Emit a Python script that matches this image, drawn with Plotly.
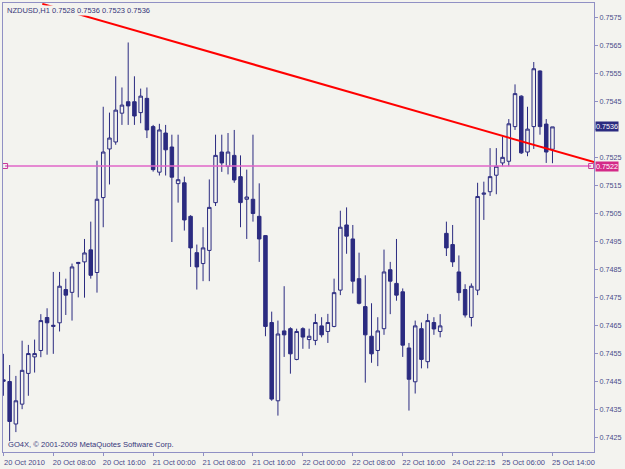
import plotly.graph_objects as go

# ---------------- data (NZDUSD, H1) ----------------
bar_index = list(range(89))

opens = [0.74455, 0.74449, 0.74297, 0.74368, 0.74478, 0.74537, 0.74560, 0.74678, 0.74646, 0.74659,
         0.74778, 0.74768, 0.74871, 0.74877, 0.74920, 0.74839, 0.75107, 0.75281, 0.75306, 0.75409,
         0.75450, 0.75450, 0.75411, 0.75462, 0.75361, 0.75198, 0.75338, 0.75288, 0.75157, 0.75160,
         0.75040, 0.74910, 0.74871, 0.74918, 0.75089, 0.75270, 0.75219, 0.75258, 0.75182, 0.75101,
         0.75101, 0.75040, 0.74971, 0.74660, 0.74380, 0.74630, 0.74638, 0.74528, 0.74638, 0.74599,
         0.74596, 0.74648, 0.74628, 0.74646, 0.74776, 0.75009, 0.74959, 0.74817, 0.74717, 0.74611,
         0.74560, 0.74638, 0.74849, 0.74800, 0.74770, 0.74569, 0.74448, 0.74638, 0.74520, 0.74660,
         0.74628, 0.74979, 0.74939, 0.74841, 0.74778, 0.74678, 0.74776, 0.75119, 0.75128, 0.75187,
         0.75231, 0.75237, 0.75361, 0.75470, 0.75270, 0.75361, 0.75560, 0.75370, 0.75280]

highs = [0.74548, 0.74508, 0.74469, 0.74595, 0.74580, 0.74599, 0.74690, 0.74711, 0.74841, 0.74841,
         0.74817, 0.74871, 0.74877, 0.74959, 0.75021, 0.75239, 0.75432, 0.75411, 0.75541, 0.75501,
         0.75662, 0.75541, 0.75497, 0.75501, 0.75367, 0.75371, 0.75367, 0.75332, 0.75332, 0.75182,
         0.75044, 0.74939, 0.75001, 0.75172, 0.75332, 0.75332, 0.75338, 0.75349, 0.75258, 0.75207,
         0.75332, 0.75158, 0.74973, 0.74699, 0.74667, 0.74790, 0.74643, 0.74638, 0.74643, 0.74638,
         0.74691, 0.74679, 0.74691, 0.74817, 0.75060, 0.75072, 0.75009, 0.74910, 0.74829, 0.74729,
         0.74679, 0.74921, 0.74877, 0.74959, 0.74782, 0.74587, 0.74667, 0.74660, 0.74691, 0.74679,
         0.74690, 0.75021, 0.75009, 0.74900, 0.74797, 0.74800, 0.75160, 0.75164, 0.75284, 0.75284,
         0.75326, 0.75388, 0.75512, 0.75473, 0.75432, 0.75592, 0.75562, 0.75388, 0.75360]

lows = [0.74398, 0.74236, 0.74268, 0.74350, 0.74398, 0.74481, 0.74536, 0.74545, 0.74548, 0.74628,
        0.74687, 0.74667, 0.74750, 0.74749, 0.74817, 0.74767, 0.75001, 0.75154, 0.75296, 0.75367,
        0.75367, 0.75367, 0.75373, 0.75320, 0.75200, 0.75186, 0.75186, 0.74948, 0.75089, 0.74989,
        0.74859, 0.74778, 0.74808, 0.74808, 0.75077, 0.75199, 0.75190, 0.75160, 0.75001, 0.74959,
        0.75021, 0.74877, 0.74611, 0.74380, 0.74327, 0.74537, 0.74477, 0.74525, 0.74566, 0.74566,
        0.74579, 0.74607, 0.74587, 0.74643, 0.74758, 0.74906, 0.74764, 0.74725, 0.74445, 0.74516,
        0.74504, 0.74616, 0.74690, 0.74738, 0.74537, 0.74345, 0.74406, 0.74496, 0.74496, 0.74616,
        0.74607, 0.74898, 0.74859, 0.74738, 0.74678, 0.74646, 0.74758, 0.75027, 0.75113, 0.75119,
        0.75219, 0.75219, 0.75349, 0.75263, 0.75255, 0.75281, 0.75332, 0.75231, 0.75230]

closes = [0.74450, 0.74306, 0.74380, 0.74489, 0.74549, 0.74549, 0.74667, 0.74659, 0.74650, 0.74790,
          0.74758, 0.74859, 0.74875, 0.74909, 0.74829, 0.75101, 0.75270, 0.75320, 0.75420, 0.75438,
          0.75435, 0.75399, 0.75470, 0.75349, 0.75207, 0.75349, 0.75278, 0.75180, 0.75171, 0.75027,
          0.74927, 0.74859, 0.74927, 0.75072, 0.75258, 0.75231, 0.75270, 0.75170, 0.75089, 0.75109,
          0.75050, 0.74959, 0.74646, 0.74386, 0.74619, 0.74616, 0.74548, 0.74628, 0.74608, 0.74611,
          0.74660, 0.74616, 0.74660, 0.74767, 0.75001, 0.74969, 0.74808, 0.74729, 0.74616, 0.74548,
          0.74630, 0.74841, 0.74808, 0.74758, 0.74579, 0.74457, 0.74648, 0.74528, 0.74667, 0.74637,
          0.74648, 0.74927, 0.74877, 0.74767, 0.74687, 0.74790, 0.75111, 0.75123, 0.75182, 0.75219,
          0.75251, 0.75371, 0.75479, 0.75267, 0.75352, 0.75568, 0.75361, 0.75270, 0.75360]

tick_index = [0, 8, 16, 24, 32, 40, 48, 56, 64, 72, 80, 88]
tick_labels = ["20 Oct 2010", "20 Oct 08:00", "20 Oct 16:00", "21 Oct 00:00",
               "21 Oct 08:00", "21 Oct 16:00", "22 Oct 00:00", "22 Oct 08:00",
               "22 Oct 16:00", "24 Oct 22:15", "25 Oct 06:00", "25 Oct 14:00"]

price_ticks = [0.7425, 0.7435, 0.7445, 0.7455, 0.7465, 0.7475, 0.7485, 0.7495,
               0.7505, 0.7515, 0.7525, 0.7535, 0.7545, 0.7555, 0.7565, 0.7575]
# 0.7535 label is hidden behind the current-price box in the reference
price_tick_labels = ["0.7425", "0.7435", "0.7445", "0.7455", "0.7465", "0.7475", "0.7485", "0.7495",
                     "0.7505", "0.7515", "0.7525", "", "0.7545", "0.7555", "0.7565", "0.7575"]

trend_x = [6.24, 94.66]
trend_y = [0.75800, 0.75234]

hline_x = [0.27, 94.2]
hline_price = 0.7522
last_price = 0.7536
header_text = "NZDUSD,H1 0.7528 0.7536 0.7523 0.7536"
copyright_text = "GO4X, © 2001-2009 MetaQuotes Software Corp."

# ---------------- style ----------------
BG = "#f3f3ef"
NAVY = "#2b2b80"
AXIS = "#9090c4"
TXT = "#4a4a8a"
PINK = "#e066c8"
FONT = "Liberation Sans"
FS = 7.2

fig = go.Figure()

fig.add_trace(go.Scatter(
    x=hline_x, y=[hline_price, hline_price], mode="lines+markers",
    line=dict(color=PINK, width=1.5),
    marker=dict(symbol="square-open", size=5, color="#c8389a", line=dict(width=1)),
    hoverinfo="skip", showlegend=False))

fig.add_trace(go.Candlestick(
    x=bar_index, open=opens, high=highs, low=lows, close=closes,
    increasing=dict(line=dict(color=NAVY, width=1), fillcolor=BG),
    decreasing=dict(line=dict(color=NAVY, width=1), fillcolor=NAVY),
    whiskerwidth=0, hoverinfo="skip", showlegend=False))

fig.add_trace(go.Scatter(
    x=trend_x, y=trend_y, mode="lines",
    line=dict(color="#ff0000", width=2),
    hoverinfo="skip", showlegend=False))

fig.update_layout(
    width=625, height=469,
    margin=dict(l=2, r=31, t=2, b=14),
    paper_bgcolor=BG, plot_bgcolor=BG,
    font=dict(family=FONT, size=FS, color=TXT),
    showlegend=False,
    boxgap=0.25, boxgroupgap=0.25,
    xaxis=dict(
        range=[-0.064, 94.656], rangeslider=dict(visible=False),
        tickmode="array", tickvals=tick_index, ticktext=tick_labels,
        ticks="outside", ticklen=3, tickcolor=AXIS, tickwidth=1,
        showline=True, linecolor=AXIS, linewidth=1, mirror=True,
        showgrid=False, zeroline=False, ticklabelshift=21,
        tickfont=dict(family=FONT, size=7.5, color=TXT),
    ),
    yaxis=dict(
        range=[0.741968, 0.758032], side="right",
        tickmode="array", tickvals=price_ticks, ticktext=price_tick_labels,
        ticks="outside", ticklen=3, tickcolor=AXIS, tickwidth=1,
        showline=True, linecolor=AXIS, linewidth=1, mirror=True,
        showgrid=False, zeroline=False,
        tickfont=dict(family=FONT, size=FS, color=TXT),
    ),
)

fig.add_annotation(xref="paper", yref="paper", x=0, y=1, xanchor="left", yanchor="top",
                   xshift=3, yshift=-2, text=header_text, showarrow=False,
                   bgcolor=BG, borderpad=0,
                   font=dict(family=FONT, size=7.5, color="#36367a"))
fig.add_annotation(xref="paper", yref="paper", x=0, y=0, xanchor="left", yanchor="bottom",
                   xshift=3, yshift=1, text=copyright_text, showarrow=False,
                   font=dict(family=FONT, size=7.6, color="#36367a"))
fig.add_annotation(xref="paper", yref="y", x=1, y=last_price, xanchor="left", yanchor="middle",
                   xshift=1, text=f"{last_price:.4f}", showarrow=False,
                   bgcolor=NAVY, borderpad=0, font=dict(family=FONT, size=FS, color="white"))
fig.add_annotation(xref="paper", yref="y", x=1, y=hline_price, xanchor="left", yanchor="middle",
                   xshift=1, text=f"{hline_price:.4f}", showarrow=False,
                   bgcolor="#d42a88", borderpad=0, font=dict(family=FONT, size=FS, color="white"))

fig.write_html("out.html")
